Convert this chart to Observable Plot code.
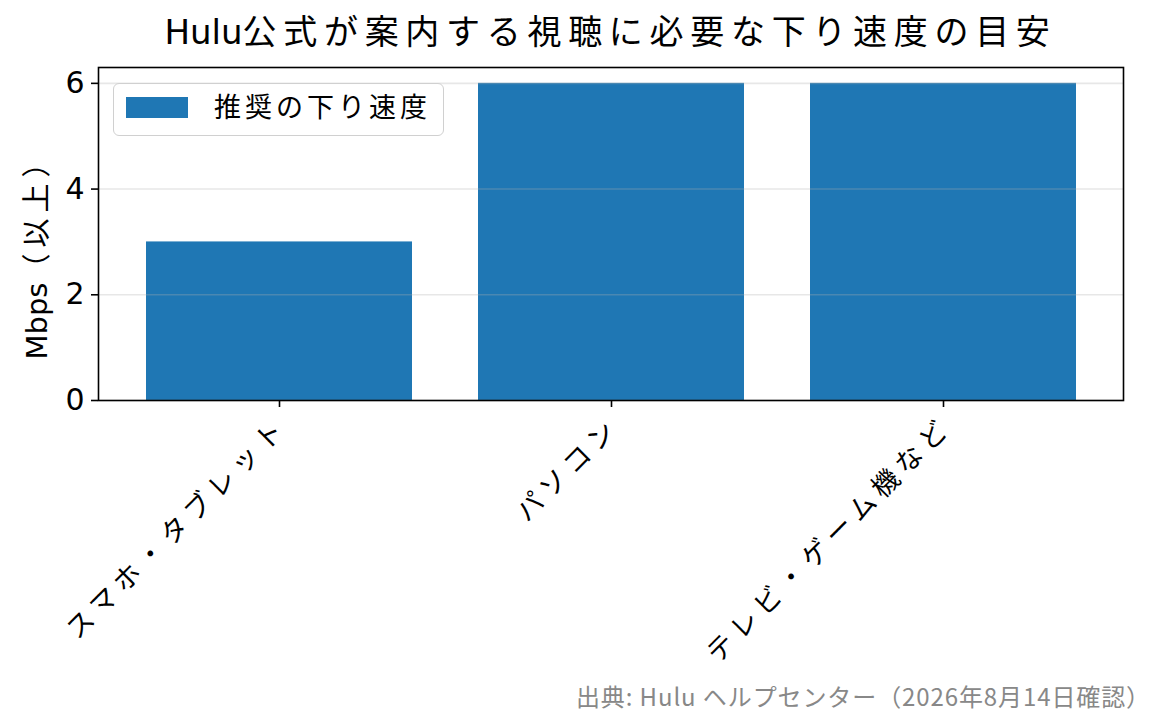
<!DOCTYPE html>
<html>
<head>
<meta charset="utf-8">
<script src="https://cdn.jsdelivr.net/npm/d3@7"></script>
<script src="https://cdn.jsdelivr.net/npm/@observablehq/plot@0.6"></script>
<style>
  html, body { margin: 0; padding: 0; background: #fff; }
  #wrap { position: relative; width: 1165px; height: 725px; overflow: hidden;
          font-family: "DejaVu Sans", "Noto Sans CJK JP", sans-serif; }
  #title { position: absolute; left: 98px; width: 1025px; top: 8px; text-align: center;
           font-size: 34px; line-height: 48px; color: #000; white-space: nowrap; }
  .cjk { letter-spacing: 6.7px; }
  #legend { position: absolute; left: 113px; top: 83px; width: 331px; height: 53px;
            border: 1.6px solid #d0d0d0; border-radius: 6px; background: rgba(255,255,255,0.8);
            box-sizing: border-box; }
  #legend .sw { position: absolute; left: 12px; top: 13px; width: 62px; height: 21px; background: #1f77b4; }
  #legend .lab { position: absolute; left: 100px; top: 4px; font-size: 27px; line-height: 40px; letter-spacing: 4px; }
  #caption { position: absolute; right: 14px; top: 680px; font-family: "Noto Sans CJK JP", sans-serif;
             font-size: 24px; line-height: 32px; color: #888; white-space: nowrap; letter-spacing: 0.9px; }
  #ylab { position: absolute; left: 37px; top: 251px; transform: translate(-50%, -50%) rotate(-90deg);
          font-size: 29px; line-height: 34px; white-space: nowrap; color: #000; }
</style>
</head>
<body>
<div id="wrap"></div>
<script>
const categories = ["スマホ・タブレット", "パソコン", "テレビ・ゲーム機など"];
const speeds = [3, 6, 6];
const seriesName = "推奨の下り速度";
const yTicks = [0, 2, 4, 6];
const titleLatin = "Hulu";
const titleCjk = "公式が案内する視聴に必要な下り速度の目安";
const yLabelLatin = "Mbps";
const yLabelCjk = "（以上）";
const captionText = "出典: Hulu ヘルプセンター（2026年8月14日確認）";

const data = categories.map((c, i) => ({device: c, speed: speeds[i]}));
const font = "'DejaVu Sans', 'Noto Sans CJK JP', sans-serif";

const chart = Plot.plot({
  width: 1165,
  height: 725,
  marginLeft: 98,
  marginRight: 42,
  marginTop: 67,
  marginBottom: 325,
  style: {fontFamily: font, fontSize: "27px", color: "#000", background: "transparent"},
  x: {domain: categories, paddingInner: 0.2, paddingOuter: 0.14},
  y: {domain: [0, 6.3]},
  marks: [
    Plot.barY(data, {x: "device", y: "speed", fill: "#1f77b4"}),
    Plot.gridY(yTicks, {stroke: "#b0b0b0", strokeOpacity: 0.3, strokeWidth: 1.6}),
    Plot.axisY({ticks: yTicks, tickSize: 7, tickPadding: 7, fontSize: 30, strokeWidth: 1.6,
                tickFormat: d3.format("d"), label: null}),
    Plot.axisX({tickSize: 7, strokeWidth: 1.6, tickFormat: () => "", label: null}),
    Plot.text(categories, {x: d => d, frameAnchor: "bottom", rotate: -45, textAnchor: "end",
                           lineAnchor: "middle", dy: 22, dx: 4, fontSize: 27,
                           className: "xlab"}),
    Plot.frame({stroke: "#000", strokeWidth: 1.6})
  ]
});

const wrap = document.getElementById("wrap");
wrap.appendChild(chart);
chart.querySelectorAll(".xlab text").forEach(t => t.setAttribute("letter-spacing", "6.4"));

const title = document.createElement("div");
title.id = "title";
title.innerHTML = `<span>${titleLatin}</span><span class="cjk">${titleCjk}</span>`;
wrap.appendChild(title);

const ylab = document.createElement("div");
ylab.id = "ylab";
ylab.innerHTML = `<span>${yLabelLatin}</span><span style="letter-spacing:6px">${yLabelCjk}</span>`;
wrap.appendChild(ylab);

const legend = document.createElement("div");
legend.id = "legend";
legend.innerHTML = `<div class="sw"></div><div class="lab">${seriesName}</div>`;
wrap.appendChild(legend);

const cap = document.createElement("div");
cap.id = "caption";
cap.textContent = captionText;
wrap.appendChild(cap);
</script>
</body>
</html>
